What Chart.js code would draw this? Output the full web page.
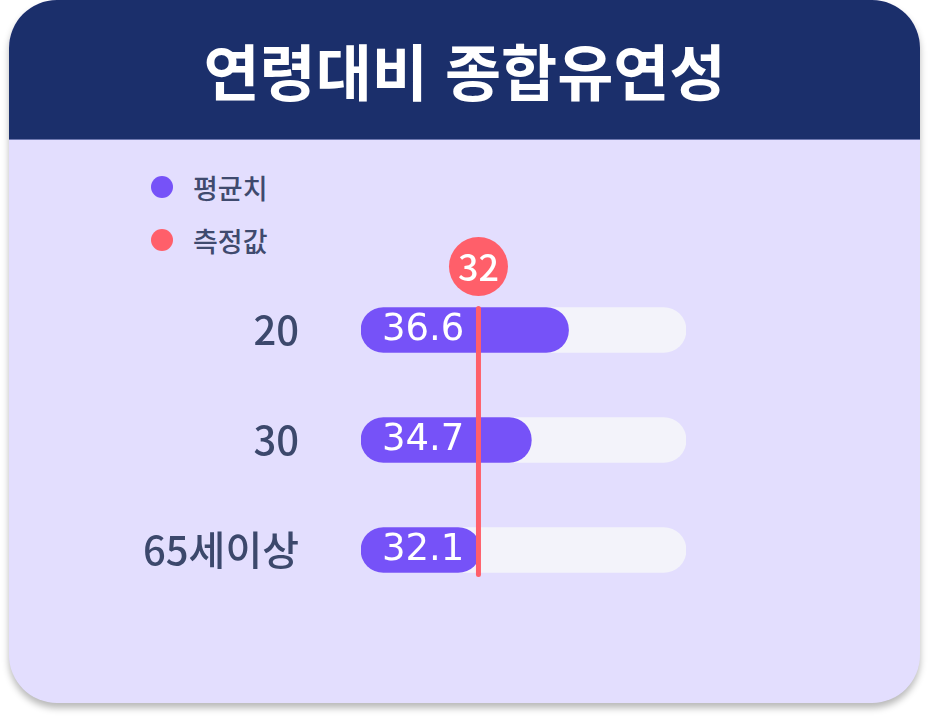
<!DOCTYPE html>
<html lang="ko">
<head>
<meta charset="utf-8">
<title>연령대비 종합유연성</title>
<script src="https://cdn.jsdelivr.net/npm/chart.js@4.4.1/dist/chart.umd.min.js"></script>
<style>
  html, body { margin: 0; padding: 0; background: #ffffff; }
  body { width: 928px; height: 720px; position: relative; overflow: hidden;
         font-family: "Noto Sans CJK KR", sans-serif; }
  #card { position: absolute; left: 9px; top: 0; width: 911px; height: 703px;
          border-radius: 48px; background: #e3defe; overflow: hidden;
          box-shadow: 0 5px 7px rgba(0, 0, 0, 0.28); }
  #header { height: 140px; background: #1b2f6b; color: #ffffff;
            font-family: "Noto Sans CJK KR", sans-serif; font-weight: bold;
            font-size: 61px; line-height: 140px; text-align: center;
            border-bottom: 1px solid #6e78b0; box-sizing: border-box; }
  #legend { position: absolute; left: 151px; top: 166px; }
  .item { display: flex; align-items: center; height: 42px; margin-bottom: 11px;
          font-family: "Noto Sans CJK KR", sans-serif; font-weight: 500;
          font-size: 27px; color: #3f4a6e; }
  .dot { width: 22px; height: 22px; border-radius: 50%; margin-right: 20px; }
  #chartBox { position: absolute; left: 0; top: 140px; width: 928px; height: 560px; }
</style>
</head>
<body>
<div id="card">
  <div id="header">연령대비 종합유연성</div>
</div>
<div id="legend"></div>
<div id="chartBox"><canvas id="chart"></canvas></div>
<script>
const ageGroups = ["20", "30", "65세이상"];
const averageValues = [36.6, 34.7, 32.1];
const measuredValue = 32;
const seriesNames = ["평균치", "측정값"];
const seriesColors = ["#7652f8", "#ff5f6a"];
const axisMin = 26;
const axisMax = 42.6;

const legendBox = document.getElementById("legend");
legendBox.innerHTML = seriesNames.map((name, i) =>
  `<div class="item"><span class="dot" style="background:${seriesColors[i]}"></span>${name}</div>`
).join("");

// white value text inside each purple bar
const barLabels = {
  id: "barLabels",
  afterDatasetsDraw(chart) {
    const ctx = chart.ctx;
    const meta = chart.getDatasetMeta(0);
    ctx.save();
    ctx.fillStyle = "#ffffff";
    ctx.font = "37px 'DejaVu Sans'";
    ctx.textAlign = "left";
    ctx.textBaseline = "middle";
    meta.data.forEach((bar, i) => {
      ctx.fillText(averageValues[i].toFixed(1), bar.base + 21, bar.y);
    });
    ctx.restore();
  }
};

// vertical marker for the measured value with a round badge on top
const measureLine = {
  id: "measureLine",
  afterDatasetsDraw(chart) {
    const ctx = chart.ctx;
    const meta = chart.getDatasetMeta(0);
    const x = chart.scales.x.getPixelForValue(measuredValue);
    const first = meta.data[0];
    const last = meta.data[meta.data.length - 1];
    const top = first.y - first.height / 2 + 1;
    const bottom = last.y + last.height / 2 + 2;
    ctx.save();
    ctx.strokeStyle = seriesColors[1];
    ctx.lineWidth = 5;
    ctx.lineCap = "round";
    ctx.beginPath();
    ctx.moveTo(x, top);
    ctx.lineTo(x, bottom);
    ctx.stroke();
    const cy = top - 42;
    ctx.fillStyle = seriesColors[1];
    ctx.beginPath();
    ctx.arc(x, cy, 29.5, 0, Math.PI * 2);
    ctx.fill();
    ctx.fillStyle = "#ffffff";
    ctx.font = "500 36px 'Noto Sans CJK KR'";
    ctx.textAlign = "center";
    ctx.textBaseline = "middle";
    ctx.fillText(String(measuredValue), x, cy + 1);
    ctx.restore();
  }
};

new Chart(document.getElementById("chart"), {
  type: "bar",
  data: {
    labels: ageGroups,
    datasets: [
      {
        label: seriesNames[0],
        data: averageValues,
        base: axisMin,
        backgroundColor: seriesColors[0],
        borderRadius: 23,
        borderSkipped: false,
        barThickness: 45,
        grouped: false,
        order: 0
      },
      {
        label: "track",
        data: ageGroups.map(() => axisMax),
        base: axisMin,
        backgroundColor: "#f3f3fa",
        borderRadius: 23,
        borderSkipped: false,
        barThickness: 45,
        grouped: false,
        order: 1
      }
    ]
  },
  options: {
    indexAxis: "y",
    responsive: true,
    maintainAspectRatio: false,
    animation: false,
    layout: { padding: { left: 0, right: 242, top: 135, bottom: 95 } },
    plugins: {
      legend: { display: false },
      tooltip: { enabled: false }
    },
    scales: {
      x: {
        display: false,
        min: axisMin,
        max: axisMax
      },
      y: {
        grid: { display: false, drawTicks: false },
        border: { display: false },
        afterFit(scale) { scale.width = 361; },
        ticks: {
          padding: 62,
          color: "#3c486c",
          font: { size: 40, weight: "500", family: "'Noto Sans CJK KR'" }
        }
      }
    }
  },
  plugins: [barLabels, measureLine]
});
</script>
</body>
</html>
